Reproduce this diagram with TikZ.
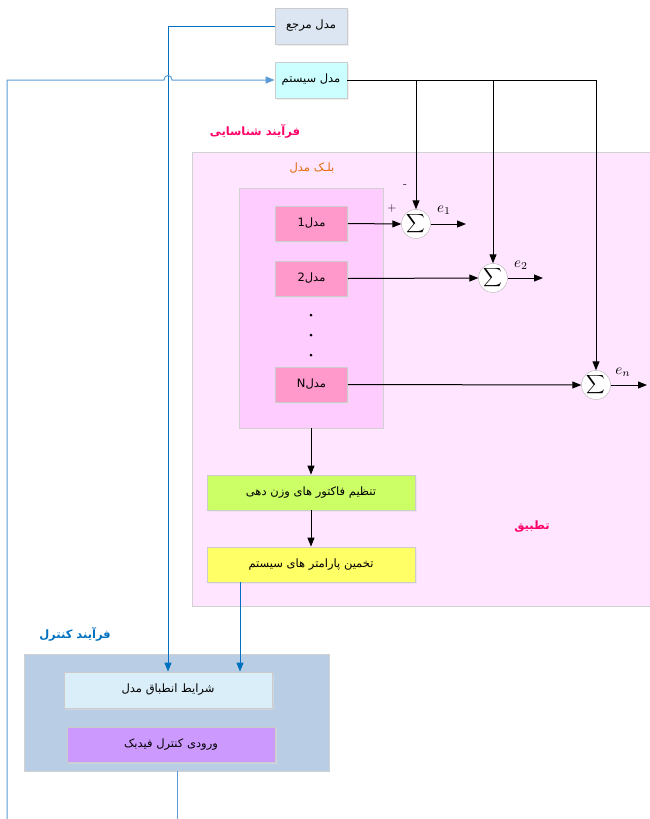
\documentclass[tikz,border=0pt]{standalone}
\usepackage{graphicx}
\usepackage{fontspec}
\newfontfamily\farsi[Script=Arabic]{DejaVu Sans}
\TeXXeTstate=1
\usetikzlibrary{arrows.meta,%
                shadows,positioning}
\newcommand{\fa}[1]{{\farsi\beginR #1\endR}}

\definecolor{refgray}{HTML}{DCE6F2}
\definecolor{syscyan}{HTML}{CCFFFF}
\definecolor{pinkbg}{HTML}{FFE5FF}
\definecolor{blockpink}{HTML}{FFCCFF}
\definecolor{modelpink}{HTML}{FF99CC}
\definecolor{weightgreen}{HTML}{CCFF66}
\definecolor{estyellow}{HTML}{FFFF66}
\definecolor{ctrlbg}{HTML}{B9CDE5}
\definecolor{condblue}{HTML}{DAEEF9}
\definecolor{fbpurple}{HTML}{CC99FF}
\definecolor{refblue}{HTML}{0070C0}
\definecolor{sysblue}{HTML}{5B9BD5}
\definecolor{idpink}{HTML}{FF0066}
\definecolor{blkorange}{HTML}{E46C0A}

\newcommand{\bigsum}{\scalebox{1.3}{$\displaystyle\sum$}}

\tikzset{
  box/.style={draw=black!20, line width=0.8pt, minimum width=72pt,
    minimum height=36pt, inner sep=0pt, font=\fontsize{11.5}{13}\selectfont,
    drop shadow={shadow xshift=1.5pt, shadow yshift=-1.5pt, fill=black!12}},
  widebox/.style={box, minimum width=208pt, minimum height=35pt},
  region/.style={draw=black!18, line width=0.8pt, inner sep=0pt},
  sumnode/.style={circle, draw=black!30, fill=white, minimum size=29pt,
    inner sep=0pt, label={[inner sep=0pt]center:\bigsum}},
  elbl/.style={scale=1.5},
  sig/.style={-{Triangle[length=9pt,width=7pt]}, line width=1pt},
  refline/.style={refblue, line width=1pt, -{Triangle[length=9pt,width=7pt]}},
  sysline/.style={sysblue, line width=1pt},
  titlelbl/.style={font=\fontsize{11.5}{13}\selectfont\bfseries}
}

\begin{document}
\begin{tikzpicture}[x=1pt,y=-1pt]
\useasboundingbox (0,0) rectangle (649,819);

% regions
\fill[pinkbg, draw=black!18, line width=0.8pt] (192,152) rectangle (670,606);
\node[region, fill=ctrlbg, minimum width=305pt, minimum height=117pt]
  (ctrl) at (176.5,712.5) {};
\node[region, fill=blockpink, minimum width=144pt, minimum height=240pt]
  (block) at (311,308) {};

% labels
\node[titlelbl, text=idpink] (idlbl) at (255,131) {\fa{فرآیند شناسایی}};
\node[font=\fontsize{11.5}{13}\selectfont, text=blkorange] (blklbl) at (312,168) {\fa{بلـک مدل}};
\node[titlelbl, text=idpink] (adlbl) at (532,527) {\fa{تطبیق}};
\node[titlelbl, text=refblue] (ctrllbl) at (75,634) {\fa{فرآیند کنترل}};

% boxes
\node[box, fill=refgray] (ref) at (311,26) {\fa{مدل مرجع}};
\node[box, fill=syscyan] (sys) at (311,80) {\fa{مدل سیستم}};
\node[box, fill=modelpink, minimum height=35pt] (m1) at (311.5,223.5) {\fa{مدل1}};
\node[box, fill=modelpink, minimum height=35pt] (m2) at (311.5,278.5) {\fa{مدل2}};
\node[box, fill=modelpink, minimum height=35pt] (mN) at (311.5,384.5) {\fa{مدلN}};
\node[widebox, fill=weightgreen] (wt) at (311,492.5) {\fa{تنظیم فاکتور های وزن دهی}};
\node[widebox, fill=estyellow] (est) at (311,564.5) {\fa{تخمین پارامتر های سیستم}};
\node[widebox, fill=condblue, minimum height=36pt] (cond) at (168,690) {\fa{شرایط انطباق مدل}};
\node[widebox, fill=fbpurple] (fb) at (171,744.5) {\fa{ورودی کنترل فیدبک}};

% dots
\foreach \y in {315,335,355}
  \fill (311,\y) circle (1.5pt);

% summing junctions
\node[sumnode] (s1) at (416,224) {};
\node[sumnode] (s2) at (493,278) {};
\node[sumnode] (sn) at (596,385) {};

\coordinate (e1out) at (466,224);
\coordinate (e2out) at (543,278);
\coordinate (enout) at (647,385);
\coordinate (sysin) at (7,819);
\coordinate (hopa) at (164,80);
\coordinate (hopb) at (172,80);
\coordinate (yb) at (240,582);
\coordinate (fbout) at (177,819);

% system output to the junctions
\draw[line width=1pt] (sys.east) -- (sys.east -| sn);
\draw[sig] (sys.east -| s1) -- (s1.north);
\draw[sig] (sys.east -| s2) -- (s2.north);
\draw[sig] (sys.east -| sn) -- (sn.north);

\draw[sig] (m1.east) -- (s1.west);
\draw[sig] (m2.east) -- (s2.west);
\draw[sig] (mN.east) -- (sn.west);
\draw[sig] (s1.east) -- (e1out);
\draw[sig] (s2.east) -- (e2out);
\draw[sig] (sn.east) -- (enout);

\node[elbl] at (444,210) {$e_1$};
\node[elbl] at (521,265) {$e_2$};
\node[elbl] at (623,372) {$e_n$};
\node[font=\large] at (392,209) {+};
\node[font=\large] at (405,186) {-};

\draw[sig] (block.south) -- (wt.north);
\draw[sig] (wt.south) -- (est.north);

% blue signal lines
\draw[refline] (ref.west) -| (cond.north);
\draw[refline] (yb) -- (yb |- cond.north);
\draw[sysline, -{Triangle[length=9pt,width=7pt]}] (sysin) |- (hopa)
  .. controls (164,74) and (172,74) .. (hopb) -- (sys.west);
\draw[sysline] (ctrl.south -| fbout) -- (fbout);

\end{tikzpicture}
\end{document}
